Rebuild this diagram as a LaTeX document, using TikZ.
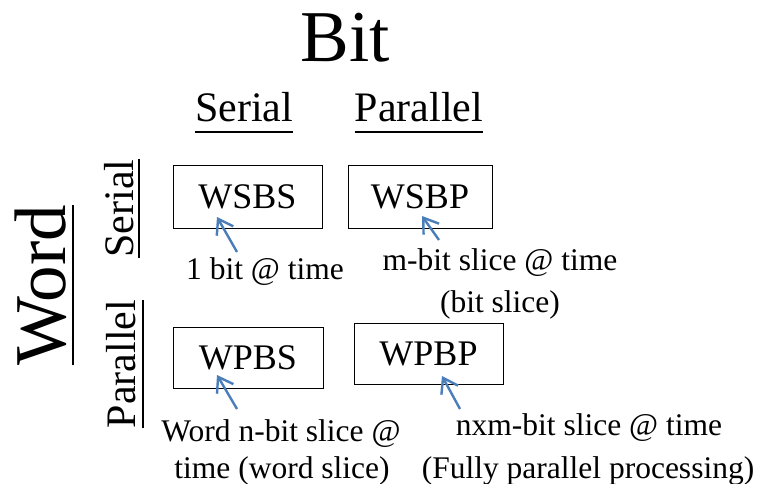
\documentclass[tikz,border=0pt]{standalone}
\usepackage{fontspec}
\setmainfont{Liberation Serif}
\usetikzlibrary{arrows.meta}
\definecolor{arrowblue}{RGB}{74,126,187}
\newcommand{\fs}[1]{\fontsize{#1}{#1}\selectfont}
\begin{document}
\begin{tikzpicture}[x=1pt,y=-1pt,
  txt/.style={inner sep=0pt, anchor=base},
  title/.style={txt, font=\fs{73}},
  head/.style={txt, font=\fs{42}},
  note/.style={txt, font=\fs{31.5}},
  box/.style={draw, line width=1pt, inner sep=0pt, font=\fs{36},
              text height=24pt, text depth=0pt},
  uline/.style={line width=2pt},
  pointer/.style={draw=arrowblue, line width=2.4pt,
                  -{Straight Barb[length=14pt,width=19pt]}}]
\useasboundingbox (0,0) rectangle (760,484);

% axis titles
\node[title] (bit) at (345,62) {Bit};
\node[title, rotate=90] (word) at (65,285) {Word};
\draw[uline] ([xshift=8pt]word.base west) -- ([xshift=8pt]word.base east);

% column headings (bit)
\node[head] (bser) at (244,122) {Serial};
\node[head] (bpar) at (419,122) {Parallel};
\draw[uline] ([yshift=-10pt]bser.base west) -- ([yshift=-10pt]bser.base east);
\draw[uline] ([yshift=-10pt]bpar.base west) -- ([yshift=-10pt]bpar.base east);

% row headings (word)
\node[head, rotate=90] (wser) at (133,208.5) {Serial};
\node[head, rotate=90] (wpar) at (135,364) {Parallel};
\draw[uline] ([xshift=6pt]wser.base west) -- ([xshift=6pt]wser.base east);
\draw[uline] ([xshift=8pt]wpar.base west) -- ([xshift=8pt]wpar.base east);

% the four modes
\node[box, minimum width=149pt, minimum height=63pt] (wsbs) at (247.5,196.5) {WSBS};
\node[box, minimum width=144pt, minimum height=63pt] (wsbp) at (420,196.5) {WSBP};
\node[box, minimum width=150pt, minimum height=61pt] (wpbs) at (248,357.5) {WPBS};
\node[box, minimum width=149pt, minimum height=61pt] (wpbp) at (428.5,353.5) {WPBP};

% descriptions
\node[note] (n1) at (265,279) {1 bit @ time};
\node[note] (n2) at (500,270) {m-bit slice @ time};
\node[note] (n2b) at (500,312) {(bit slice)};
\node[note] (n3) at (281,441) {Word n-bit slice @};
\node[note] (n3b) at (282,478) {time (word slice)};
\node[note] (n4) at (589,435) {nxm-bit slice @ time};
\node[note] (n4b) at (588,478) {(Fully parallel processing)};

% pointers from descriptions into the boxes
\coordinate (t1) at (237,252); \coordinate (h1) at (217,217);
\coordinate (t2) at (439,240); \coordinate (h2) at (422,216);
\coordinate (t3) at (237,409); \coordinate (h3) at (217,375);
\coordinate (t4) at (460,409); \coordinate (h4) at (442,376);
\draw[pointer] (t1) -- (h1);
\draw[pointer] (t2) -- (h2);
\draw[pointer] (t3) -- (h3);
\draw[pointer] (t4) -- (h4);
\end{tikzpicture}
\end{document}
